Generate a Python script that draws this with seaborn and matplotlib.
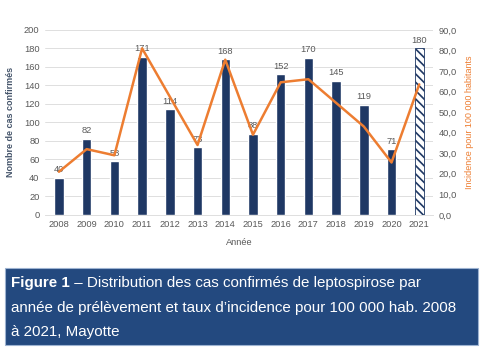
# ========== Librerias ==========
import pandas as pd
import numpy as np
import matplotlib
matplotlib.use("Agg")
import matplotlib.pyplot as plt
import seaborn as sns
from matplotlib.patches import Rectangle
from matplotlib.ticker import FuncFormatter, MultipleLocator

# ========== Datos ==========
annees = ["2008", "2009", "2010", "2011", "2012", "2013", "2014",
          "2015", "2016", "2017", "2018", "2019", "2020", "2021"]
cas = [40, 82, 58, 171, 114, 73, 168, 88, 152, 170, 145, 119, 71, 180]
incidence = [21.0, 32.0, 29.0, 81.0, 57.5, 34.0, 75.5, 39.0, 64.5, 66.0,
             54.5, 43.0, 25.5, 63.5]

df = pd.DataFrame({"annee": annees, "cas": cas, "incidence": incidence})
df["pos"] = np.arange(len(df))

navy = "#1F3864"
orange = "#ED7D31"
gris = "#595959"

# ========== Figure ==========
sns.set_style("white")
plt.rcParams["font.family"] = ["Liberation Sans", "DejaVu Sans"]
plt.rcParams["hatch.color"] = navy
plt.rcParams["hatch.linewidth"] = 1.2

fig = plt.figure(figsize=(4.85, 3.6), dpi=100)
ax = fig.add_axes([0.093, 0.403, 0.80, 0.514])

sns.barplot(data=df, x="annee", y="cas", color=navy, width=0.34,
            saturation=1, ax=ax, zorder=2)

# derniere barre hachuree (donnees provisoires)
last = ax.patches[-1]
last.set_facecolor("white")
last.set_hatch("\\\\\\\\")
last.set_edgecolor(navy)
last.set_linewidth(0.6)

for p, v in zip(ax.patches, cas):
    ax.text(p.get_x() + p.get_width() / 2, v + 4, str(v), ha="center",
            va="bottom", fontsize=6.7, color=gris, zorder=5)

ax.set_ylim(0, 200)
ax.yaxis.set_major_locator(MultipleLocator(20))
ax.grid(axis="y", color="#D9D9D9", linewidth=0.6, zorder=0)
ax.set_axisbelow(True)
ax.set_xlim(-0.5, len(annees) - 0.5)
ax.tick_params(axis="both", labelsize=6.7, colors=gris, length=0, pad=4)
ax.set_xlabel("Année", fontsize=6.7, color=gris, labelpad=6)
ax.set_ylabel("Nombre de cas confirmés", fontsize=6.5, color="#44546A",
              fontweight="bold", labelpad=6)
for s in ["top", "right", "left"]:
    ax.spines[s].set_visible(False)
ax.spines["bottom"].set_color("#D9D9D9")
ax.spines["bottom"].set_linewidth(0.6)

# ---------- Incidence ----------
ax2 = ax.twinx()
sns.lineplot(data=df, x="pos", y="incidence", color=orange, linewidth=1.8,
             ax=ax2, zorder=4)
ax2.set_ylim(0, 90)
ax2.yaxis.set_major_locator(MultipleLocator(10))
ax2.yaxis.set_major_formatter(FuncFormatter(lambda v, _: f"{v:.1f}".replace(".", ",")))
ax2.tick_params(axis="y", labelsize=6.7, colors=gris, length=0, pad=4)
ax2.set_ylabel("Incidence pour 100 000 habitants", fontsize=6.5,
               color=orange, labelpad=6)
ax2.set_xlabel("")
ax2.grid(False)
for s in ax2.spines.values():
    s.set_visible(False)

# ---------- Legende figure ----------
fig.patches.append(Rectangle((5 / 485, 1 - 345 / 360), 473 / 485, 77 / 360,
                             transform=fig.transFigure, facecolor="#23497F",
                             edgecolor="#9DB3D1", linewidth=0.8, zorder=0))
fs = 10.9
x0 = 11 / 485
t_bold = fig.text(x0, 1 - 283 / 360, "Figure 1", fontsize=fs, color="white",
                  fontweight="bold", va="center", ha="left")
rend = fig.canvas.get_renderer()
bb = t_bold.get_window_extent(renderer=rend)
fig.text(bb.x1 / fig.bbox.width, 1 - 283 / 360,
         " – Distribution des cas confirmés de leptospirose par",
         fontsize=fs, color="white", va="center", ha="left")
fig.text(x0, 1 - 308 / 360,
         "année de prélèvement et taux d’incidence pour 100 000 hab. 2008",
         fontsize=fs, color="white", va="center", ha="left")
fig.text(x0, 1 - 332 / 360, "à 2021, Mayotte",
         fontsize=fs, color="white", va="center", ha="left")

fig.savefig("out.png", dpi=100)
